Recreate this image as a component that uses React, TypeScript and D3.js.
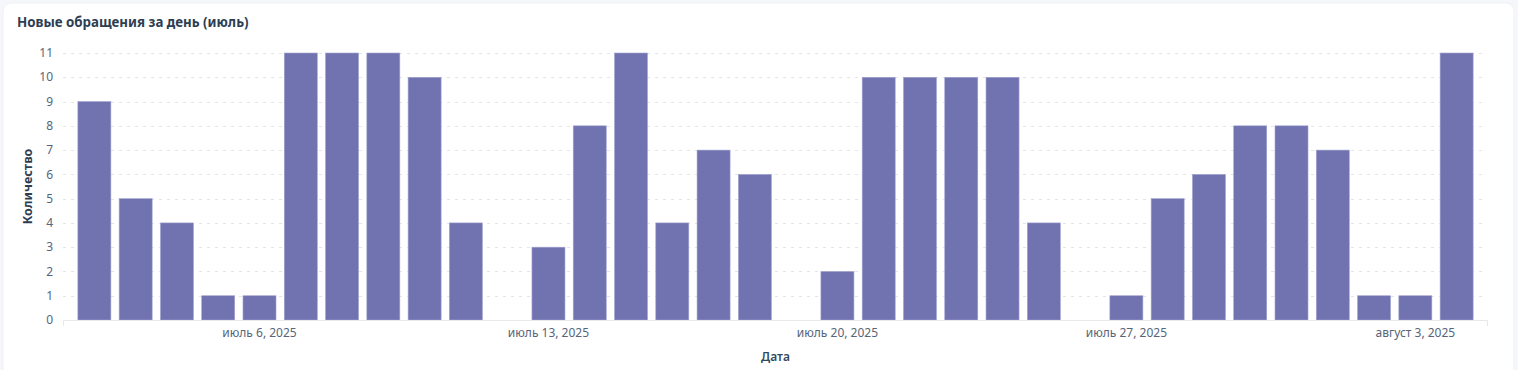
import { useEffect, useRef } from 'react';
import * as d3 from 'd3';

// daily counts, July 2 .. August 4, 2025
const dates = [
  '2025-07-02', '2025-07-03', '2025-07-04', '2025-07-05', '2025-07-06', '2025-07-07', '2025-07-08',
  '2025-07-09', '2025-07-10', '2025-07-11', '2025-07-12', '2025-07-13', '2025-07-14', '2025-07-15',
  '2025-07-16', '2025-07-17', '2025-07-18', '2025-07-19', '2025-07-20', '2025-07-21', '2025-07-22',
  '2025-07-23', '2025-07-24', '2025-07-25', '2025-07-26', '2025-07-27', '2025-07-28', '2025-07-29',
  '2025-07-30', '2025-07-31', '2025-08-01', '2025-08-02', '2025-08-03', '2025-08-04',
];
const counts = [
  9, 5, 4, 1, 1, 11, 11,
  11, 10, 4, 0, 3, 8, 11,
  4, 7, 6, 0, 2, 10, 10,
  10, 10, 4, 0, 1, 5, 6,
  8, 8, 7, 1, 1, 11,
];
const tickDates = ['2025-07-06', '2025-07-13', '2025-07-20', '2025-07-27', '2025-08-03'];
const monthNames = ['январь', 'февраль', 'март', 'апрель', 'май', 'июнь', 'июль', 'август', 'сентябрь', 'октябрь', 'ноябрь', 'декабрь'];
const yTicks = [0, 1, 2, 3, 4, 5, 6, 7, 8, 9, 10, 11];

const FONT = '"Noto Sans", sans-serif';

const App = () => {
  const svgRef = useRef(null);

  useEffect(() => {
    const W = 1518;
    const H = 370;
    const margin = { top: 53, right: 30, bottom: 50, left: 63 };

    const svg = d3.select(svgRef.current);
    svg.selectAll('*').remove();
    svg.attr('width', W).attr('height', H);

    // card
    svg.append('rect').attr('width', W).attr('height', H).attr('fill', '#f5f7fa');
    svg.append('rect')
      .attr('x', 3).attr('y', 3)
      .attr('width', W - 7).attr('height', H + 10)
      .attr('rx', 8)
      .attr('fill', '#ffffff')
      .attr('stroke', '#eef1f5');

    svg.append('text')
      .attr('x', 17).attr('y', 27)
      .style('font-family', FONT).style('font-size', '13.3px').style('font-weight', 700)
      .style('fill', '#2e3e52')
      .text('Новые обращения за день (июль)');

    const x0 = margin.left;
    const x1 = W - margin.right;
    const yBottom = H - margin.bottom;

    const x = d3.scaleBand()
      .domain(dates)
      .range([x0, x1])
      .paddingInner(0.2)
      .paddingOuter(0.36);

    const y = d3.scaleLinear().domain([0, 11]).range([yBottom, margin.top]);

    // dashed grid
    svg.append('g')
      .selectAll('line')
      .data(yTicks.filter(d => d > 0))
      .enter()
      .append('line')
      .attr('x1', x0).attr('x2', x1 - 4)
      .attr('y1', d => Math.round(y(d)) + 0.5).attr('y2', d => Math.round(y(d)) + 0.5)
      .attr('stroke', '#e3e5e8')
      .attr('stroke-dasharray', '3,5');

    // bars
    svg.append('g')
      .selectAll('rect')
      .data(dates)
      .enter()
      .append('rect')
      .attr('x', d => x(d))
      .attr('y', (d, i) => y(counts[i]))
      .attr('width', x.bandwidth())
      .attr('height', (d, i) => yBottom - y(counts[i]))
      .attr('fill', '#7173b1')
      .attr('stroke', '#a3a5d0')
      .attr('stroke-width', 0.6);

    // x domain line with end ticks
    svg.append('path')
      .attr('d', `M${x0 + 0.5},${yBottom + 6}V${yBottom + 0.5}H${x1 - 0.5}V${yBottom + 6}`)
      .attr('fill', 'none')
      .attr('stroke', '#e6e8eb');

    // y tick labels
    svg.append('g')
      .selectAll('text')
      .data(yTicks)
      .enter()
      .append('text')
      .attr('x', 53)
      .attr('y', d => y(d))
      .attr('dy', '0.35em')
      .attr('text-anchor', 'end')
      .style('font-family', FONT).style('font-size', '12px')
      .style('fill', '#56657a')
      .text(d => d);

    // x tick labels
    const fmt = (s: string) => {
      const dt = new Date(s + 'T00:00:00');
      return `${monthNames[dt.getMonth()]} ${dt.getDate()}, ${dt.getFullYear()}`;
    };
    svg.append('g')
      .selectAll('text')
      .data(tickDates)
      .enter()
      .append('text')
      .attr('x', d => x(d) + x.bandwidth() / 2)
      .attr('y', yBottom + 17)
      .attr('text-anchor', 'middle')
      .style('font-family', FONT).style('font-size', '12px')
      .style('fill', '#56657a')
      .text(d => fmt(d));

    // axis titles
    svg.append('text')
      .attr('x', (x0 + x1) / 2)
      .attr('y', 361)
      .attr('text-anchor', 'middle')
      .style('font-family', FONT).style('font-size', '12px').style('font-weight', 600)
      .style('fill', '#34495e')
      .text('Дата');

    svg.append('text')
      .attr('transform', `translate(32,${(margin.top + yBottom) / 2}) rotate(-90)`)
      .attr('text-anchor', 'middle')
      .style('font-family', FONT).style('font-size', '12.5px').style('font-weight', 700)
      .style('fill', '#2e3e52')
      .text('Количество');
  }, []);

  return (
    <div style={{ position: 'fixed', left: 0, top: 0 }}>
      <svg ref={svgRef} style={{ display: 'block' }}></svg>
    </div>
  );
};

export default App;
